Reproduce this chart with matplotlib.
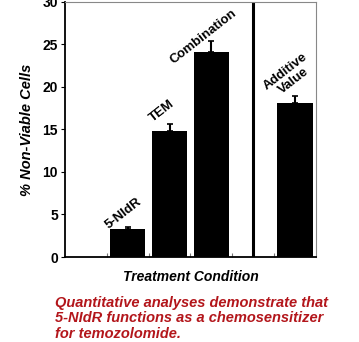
import matplotlib
matplotlib.use("Agg")
import matplotlib.pyplot as plt
import numpy as np

plt.rcParams["font.family"] = ["Liberation Sans", "DejaVu Sans"]

# --- data ------------------------------------------------------------------
labels = ["5-NIdR", "TEM", "Combination", "Additive\nValue"]
values = [3.3, 14.8, 24.1, 18.1]
errors = [0.25, 0.8, 1.3, 0.8]
positions = [1.5, 2.5, 3.5, 5.5]
divider_x = 4.5
yticks = [0, 5, 10, 15, 20, 25, 30]
caption = ("Quantitative analyses demonstrate that\n"
           "5-NIdR functions as a chemosensitizer\n"
           "for temozolomide.")

fig = plt.figure(figsize=(3.59, 3.42), dpi=100)
ax = fig.add_axes([0.181, 0.2485, 0.699, 0.746])

ax.bar(positions, values, width=0.84, color="black")
ax.errorbar(positions, values, yerr=[np.zeros(len(errors)), errors],
            fmt="none", ecolor="black", elinewidth=1.5, capsize=2.5, capthick=1.2)
ax.axvline(divider_x, color="black", lw=2.2)

# rotated labels above each bar
offsets = [1.6, 1.6, 0.5, 2.4]
dx = [-0.1, -0.17, -0.2, -0.13]
for p, v, e, lab, o, d in zip(positions, values, errors, labels, offsets, dx):
    ax.text(p + d, v + e + o, lab, rotation=38, ha="center", va="center",
            fontsize=9.5, fontweight="bold", linespacing=1.0)

ax.set_xlim(0, 6)
ax.set_ylim(0, 30)
ax.set_yticks(yticks)
ax.set_xticks([1, 2, 3, 4, 5])
ax.set_xticklabels([])
ax.tick_params(axis="x", direction="in", length=3, color="#777777")
ax.tick_params(axis="y", direction="out", length=3, labelsize=10, pad=2)
for t in ax.get_yticklabels():
    t.set_fontweight("bold")

ax.spines["left"].set_linewidth(1.3)
ax.spines["bottom"].set_linewidth(1.3)
ax.spines["top"].set_color("#888888")
ax.spines["right"].set_color("#888888")
ax.spines["top"].set_linewidth(0.8)
ax.spines["right"].set_linewidth(0.8)

ax.set_ylabel("% Non-Viable Cells", fontsize=10.5, fontweight="bold",
              fontstyle="italic", labelpad=6)
ax.set_xlabel("Treatment Condition", fontsize=10, fontweight="bold",
              fontstyle="italic", labelpad=6)

fig.text(0.153, 0.135, caption, color="#b3161b", fontsize=10.5,
         fontweight="bold", fontstyle="italic", ha="left", va="top",
         linespacing=1.15)

fig.savefig("out.png", dpi=100)
